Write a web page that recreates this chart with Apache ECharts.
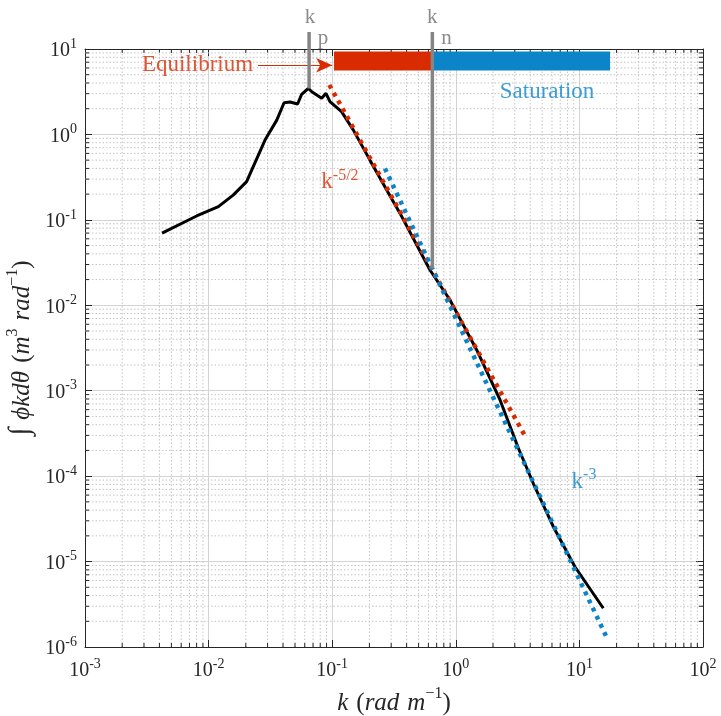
<!DOCTYPE html>
<html><head><meta charset="utf-8">
<script src="https://cdn.jsdelivr.net/npm/echarts@6/dist/echarts.min.js"></script>
<style>html,body{margin:0;padding:0;background:#fff}#c{width:721px;height:716px}</style>
</head><body><div id="c"></div>
<script>
// ---- data ----
const kSpec = [0.0042, 0.0080, 0.0120, 0.0158, 0.0203, 0.0286, 0.0356, 0.0408, 0.0456, 0.0525, 0.0566, 0.0641, 0.0683, 0.0822, 0.0891, 0.0959, 0.119, 0.148, 0.202, 0.276, 0.354, 0.618, 0.897, 1.476, 2.28, 3.21, 4.24, 6.15, 9.2, 15.6];
const spec  = [0.070, 0.111, 0.1426, 0.195, 0.28, 0.86, 1.47, 2.35, 2.40, 2.27, 2.95, 3.47, 3.16, 2.65, 3.03, 2.42, 1.85, 1.13, 0.50, 0.224, 0.119, 0.0259, 0.01153, 0.0030, 7.8e-4, 2.12e-4, 8.2e-5, 2.56e-5, 8.7e-6, 2.84e-6];
const kFit52 = [0.0948, 3.68];
const vFit52 = [3.79, 2.85e-4];
const kFit3 = [0.267, 16.4];
const vFit3 = [0.40, 1.35e-6];
const kP = 0.065, kPTop = 15.8, kPBottom = 3.45;
const kN = 0.646, kNTop = 15.8, kNBottom = 0.0271;
const eqRange = [0.1035, 0.646];
const satRange = [0.646, 17.7];
const bandLevel = 7.24;
const arrowK = [0.0251, 0.1];
const arrowV = 6.45;
const xTickExp = [-3, -2, -1, 0, 1, 2];
const yTickExp = [-6, -5, -4, -3, -2, -1, 0, 1];

const RED = '#D92B00', BLUE = '#0B85C8', GRAY = '#858585', INK = '#262626';
const SERIF = '"Liberation Serif","Times New Roman",serif';
const xMin = Math.pow(10, xTickExp[0]), xMax = Math.pow(10, xTickExp[xTickExp.length - 1]);
const yMin = Math.pow(10, yTickExp[0]), yMax = Math.pow(10, yTickExp[yTickExp.length - 1]);

function minorVals(exps) {
  const out = [];
  for (let i = 0; i < exps.length - 1; i++)
    for (let m = 2; m <= 9; m++) out.push(m * Math.pow(10, exps[i]));
  return out;
}
const xMinor = minorVals(xTickExp);
const yMinor = minorVals(yTickExp);

const tickRich = {
  b: {fontSize: 20, fontFamily: SERIF, color: INK, lineHeight: 24, verticalAlign: 'bottom'},
  s: {fontSize: 14, fontFamily: SERIF, color: INK, lineHeight: 16, verticalAlign: 'top'}
};
function powFmt(v) {
  const e = Math.round(Math.log10(v));
  return '{b|10}{s|' + e + '}';
}

const chart = echarts.init(document.getElementById('c'), null, {renderer: 'canvas'});

function minorRender(isX) {
  return function (params, api) {
    let p1, p2;
    if (isX) { const v = api.value(0); p1 = api.coord([v, yMin]); p2 = api.coord([v, yMax]); }
    else { const v = api.value(1); p1 = api.coord([xMin, v]); p2 = api.coord([xMax, v]); }
    const t = 4;
    const kids = [{type: 'line', shape: {x1: p1[0], y1: p1[1], x2: p2[0], y2: p2[1]},
      style: {stroke: '#c4c4c4', lineWidth: 1, lineDash: [1.5, 2]}}];
    if (isX) {
      kids.push({type: 'line', shape: {x1: p1[0], y1: p1[1], x2: p1[0], y2: p1[1] - t}, style: {stroke: INK, lineWidth: 1}});
      kids.push({type: 'line', shape: {x1: p2[0], y1: p2[1], x2: p2[0], y2: p2[1] + t}, style: {stroke: INK, lineWidth: 1}});
    } else {
      kids.push({type: 'line', shape: {x1: p1[0], y1: p1[1], x2: p1[0] + t, y2: p1[1]}, style: {stroke: INK, lineWidth: 1}});
      kids.push({type: 'line', shape: {x1: p2[0], y1: p2[1], x2: p2[0] - t, y2: p2[1]}, style: {stroke: INK, lineWidth: 1}});
    }
    return {type: 'group', children: kids};
  };
}

function logAxisBase(min, max) {
  return {
    type: 'log', logBase: 10, min: min, max: max, interval: 1,
    axisLine: {show: true, onZero: false, lineStyle: {color: INK, width: 1}},
    axisTick: {show: true, inside: true, length: 7, lineStyle: {color: INK, width: 1}},
    splitLine: {show: false},
    axisLabel: {show: false}
  };
}

const nameRich = {
  i: {fontSize: 25, fontFamily: SERIF, fontStyle: 'italic', color: INK, lineHeight: 30, verticalAlign: 'bottom'},
  n: {fontSize: 25, fontFamily: SERIF, color: INK, lineHeight: 30, verticalAlign: 'bottom'},
  big: {fontSize: 29, fontFamily: SERIF, fontStyle: 'italic', color: INK, lineHeight: 30, verticalAlign: 'bottom'},
  sp: {fontSize: 25, fontFamily: SERIF, color: INK, lineHeight: 30, verticalAlign: 'bottom', width: 8},
  s: {fontSize: 16, fontFamily: SERIF, color: INK, lineHeight: 24, verticalAlign: 'top'}
};

const xMain = Object.assign(logAxisBase(xMin, xMax), {
  position: 'bottom',
  splitLine: {show: true, lineStyle: {color: '#d4d4d4', width: 1}},
  axisLabel: {show: true, formatter: powFmt, rich: tickRich, margin: 10},
  name: '{i|k}{sp|}{n|(}{i|rad}{sp|}{i|m}{s|−1}{n|)}',
  nameLocation: 'middle', nameGap: 31,
  nameTextStyle: {rich: nameRich}
});
const xTop = Object.assign(logAxisBase(xMin, xMax), {position: 'top'});
const yMain = Object.assign(logAxisBase(yMin, yMax), {
  position: 'left',
  splitLine: {show: true, lineStyle: {color: '#d4d4d4', width: 1}},
  axisLabel: {show: true, formatter: powFmt, rich: tickRich, margin: 8},
  name: '{big|∫}{sp|}{i|ϕkdθ}{sp|}{n|(}{i|m}{s|3}{sp|}{i|rad}{s|−1}{n|)}',
  nameLocation: 'middle', nameGap: 44, nameRotate: 90,
  nameTextStyle: {rich: nameRich}
});
const yRight = Object.assign(logAxisBase(yMin, yMax), {position: 'right'});

function pairs(xs, ys) { return xs.map((x, i) => [x, ys[i]]); }

function textPoint(pos, formatter, rich, align) {
  return {value: pos, label: {show: true, position: 'inside', formatter: formatter, rich: rich, align: align || 'center', verticalAlign: 'middle'}};
}
const annRich = {
  r: {fontSize: 23, fontFamily: SERIF, color: RED},
  b: {fontSize: 23, fontFamily: SERIF, color: BLUE},
  rk: {fontSize: 23, fontFamily: SERIF, color: RED, lineHeight: 26, verticalAlign: 'bottom'},
  rs: {fontSize: 16, fontFamily: SERIF, color: RED, lineHeight: 18, verticalAlign: 'top'},
  bk: {fontSize: 23, fontFamily: SERIF, color: BLUE, lineHeight: 26, verticalAlign: 'bottom'},
  bs: {fontSize: 16, fontFamily: SERIF, color: BLUE, lineHeight: 18, verticalAlign: 'top'},
  g: {fontSize: 21, fontFamily: SERIF, color: '#6e6e6e'}
};

const option = {
  backgroundColor: '#ffffff',
  animation: false,
  grid: {left: 85, top: 49, right: 18, bottom: 69, containLabel: false, outerBoundsMode: 'none'},
  xAxis: [xMain, xTop],
  yAxis: [yMain, yRight],
  series: [
    {type: 'custom', silent: true, z: 1, renderItem: minorRender(true), data: xMinor.map(v => [v, 1]), encode: {x: 0, y: 1}},
    {type: 'custom', silent: true, z: 1, renderItem: minorRender(false), data: yMinor.map(v => [1, v]), encode: {x: 0, y: 1}},
    {type: 'line', z: 3, data: pairs(kSpec, spec), symbol: 'none', lineStyle: {color: '#000', width: 3}},
    {type: 'line', z: 4, data: pairs(kFit52, vFit52), symbol: 'none', lineStyle: {color: RED, width: 4.5, type: [4, 5], cap: 'butt'}},
    {type: 'line', z: 4, data: pairs(kFit3, vFit3), symbol: 'none', lineStyle: {color: BLUE, width: 4.5, type: [4, 5], cap: 'butt'}},
    {type: 'line', z: 5, data: eqRange.map(k => [k, bandLevel]), symbol: 'none', lineStyle: {color: RED, width: 19, cap: 'butt'}},
    {type: 'line', z: 5, data: satRange.map(k => [k, bandLevel]), symbol: 'none', lineStyle: {color: BLUE, width: 19, cap: 'butt'}},
    {type: 'line', z: 6, clip: false, data: [[kP, kPTop], [kP, kPBottom]], symbol: 'none', lineStyle: {color: GRAY, width: 3.5, cap: 'butt'}},
    {type: 'line', z: 6, clip: false, data: [[kN, kNTop], [kN, kNBottom]], symbol: 'none', lineStyle: {color: GRAY, width: 3.5, cap: 'butt'}},
    {type: 'line', z: 6, data: [], markLine: {silent: true, symbol: ['none', 'arrow'], symbolSize: [11, 16],
      lineStyle: {color: RED, width: 1, type: 'solid'}, label: {show: false},
      data: [[{coord: [arrowK[0], arrowV]}, {coord: [arrowK[1], arrowV]}]]}},
    {type: 'scatter', z: 7, clip: false, symbolSize: 0, silent: true, data: [
      textPoint([0.0229, 6.5], '{r|Equilibrium}', annRich, 'right'),
      textPoint([5.47, 3.1], '{b|Saturation}', annRich),
      textPoint([0.1156, 0.29], '{rk|k}{rs|-5/2}', annRich),
      textPoint([10.9, 9.0e-5], '{bk|k}{bs|-3}', annRich),
      textPoint([0.066, 23.5], '{g|k}', annRich),
      textPoint([0.0843, 13.2], '{g|p}', annRich),
      textPoint([0.646, 23.5], '{g|k}', annRich),
      textPoint([0.84, 13.2], '{g|n}', annRich)
    ]}
  ]
};
chart.setOption(option);
</script></body></html>
